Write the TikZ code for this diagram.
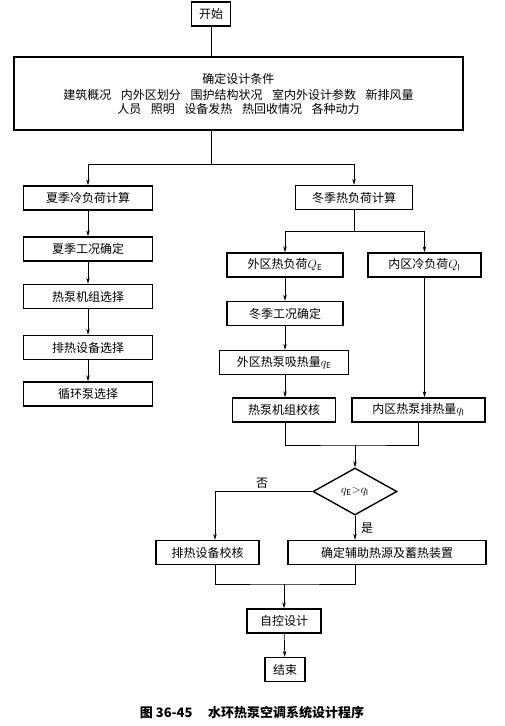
\documentclass[tikz,border=0pt]{standalone}
\usepackage{fontspec}
\setmainfont{Noto Sans CJK SC}
\usetikzlibrary{arrows.meta,shapes.geometric}
\begin{document}
\begin{tikzpicture}[x=1pt, y=-1pt, every node/.style={font=\fontsize{12}{14}\selectfont},
  box/.style={draw, line width=1.4pt, minimum height=24pt, inner sep=0pt},
  test/.style={draw, diamond, line width=1.4pt, minimum width=84pt, minimum height=47pt, inner sep=0pt},
  arr/.style={-{Stealth[length=6pt,width=3.5pt]}},
  conn/.style={line width=0.7pt}]
  \useasboundingbox (0,0) rectangle (505,726);
  \node[box, minimum width=39pt] (start) at (211,14) {开始};
  \node[box, minimum width=449pt, minimum height=73pt, align=center] (cond) at (238.5,93.5)
    {确定设计条件\\[2pt]
     建筑概况\hspace{0.8em}内外区划分\hspace{0.8em}围护结构状况\hspace{0.8em}室内外设计参数\hspace{0.8em}新排风量\\
     人员\hspace{0.8em}照明\hspace{0.8em}设备发热\hspace{0.8em}热回收情况\hspace{0.8em}各种动力};
  % summer branch
  \node[box, minimum width=129pt] (summer) at (88,198) {夏季冷负荷计算};
  \node[box, minimum width=129pt] (sumcond) at (88,249) {夏季工况确定};
  \node[box, minimum width=129pt] (hpsel) at (88,296.5) {热泵机组选择};
  \node[box, minimum width=129pt] (hrsel) at (88,347.5) {排热设备选择};
  \node[box, minimum width=129pt] (pump) at (88,394) {循环泵选择};
  % winter branch
  \node[box, minimum width=117pt] (winter) at (354,197.5) {冬季热负荷计算};
  \node[box, minimum width=116pt] (outQ) at (285,265) {外区热负荷$Q_{\mathrm{E}}$};
  \node[box, minimum width=113pt] (inQ) at (424.5,265) {内区冷负荷$Q_{\mathrm{I}}$};
  \node[box, minimum width=116pt] (wincond) at (285,313.5) {冬季工况确定};
  \node[box, minimum width=129pt] (outq) at (284,362.5) {外区热泵吸热量$q_{\mathrm{E}}$};
  \node[box, minimum width=103pt] (hpchk) at (284,410) {热泵机组校核};
  \node[box, minimum width=133pt] (inq) at (418.5,410) {内区热泵排热量$q_{\mathrm{I}}$};
  \node[test] (dia) at (355,491.5) {$q_{\mathrm{E}}{>}q_{\mathrm{I}}$};
  \node[box, minimum width=103pt] (hrchk) at (207.5,552.5) {排热设备校核};
  \node[box, minimum width=198pt] (aux) at (387,552.5) {确定辅助热源及蓄热装置};
  \node[box, minimum width=74pt] (ctrl) at (284,621) {自控设计};
  \node[box, minimum width=40pt] (stop) at (285,669.5) {结束};
  \node[font=\fontsize{13}{15}\selectfont\bfseries] (cap) at (252,713) {图 36-45\hspace{1.2em}水环热泵空调系统设计程序};
  % connectors
  \coordinate (s1) at (211,164);
  \coordinate (w1) at (354,231);
  \coordinate (m1) at (355,445);
  \coordinate (nb) at (215,491.5);
  \coordinate (m2) at (284,584);
  \draw[conn] (start) -- (start |- cond.north);
  \draw[conn] (start |- cond.south) -- (s1);
  \draw[conn, arr] (s1) -| (summer.north);
  \draw[conn, arr] (s1) -| (winter.north);
  \draw[conn, arr] (summer) -- (sumcond);
  \draw[conn, arr] (sumcond) -- (hpsel);
  \draw[conn, arr] (hpsel) -- (hrsel);
  \draw[conn, arr] (hrsel) -- (pump);
  \draw[conn] (winter) -- (w1);
  \draw[conn, arr] (w1) -| (outQ.north);
  \draw[conn, arr] (w1) -| (inQ.north);
  \draw[conn, arr] (outQ) -- (wincond);
  \draw[conn, arr] (wincond) -- (outq.north -| wincond);
  \draw[conn, arr] (outq.south -| wincond) -- (hpchk.north -| wincond);
  \draw[conn, arr] (inQ) -- (inQ |- inq.north);
  \draw[conn] (hpchk.south -| wincond) |- (m1) -| (inq.south);
  \draw[conn, arr] (m1) -- (dia.north);
  \draw[conn] (dia.west) -- (nb);
  \draw[conn, arr] (nb) -- (nb |- hrchk.north);
  \draw[conn, arr] (dia.south) -- (dia.south |- aux.north);
  \draw[conn] (nb |- hrchk.south) |- (m2) -| (aux.south -| dia);
  \draw[conn, arr] (m2) -- (ctrl);
  \draw[conn, arr] (ctrl) -- (stop);
  \node at (262,483) {否};
  \node at (367,528) {是};
\end{tikzpicture}
\end{document}
